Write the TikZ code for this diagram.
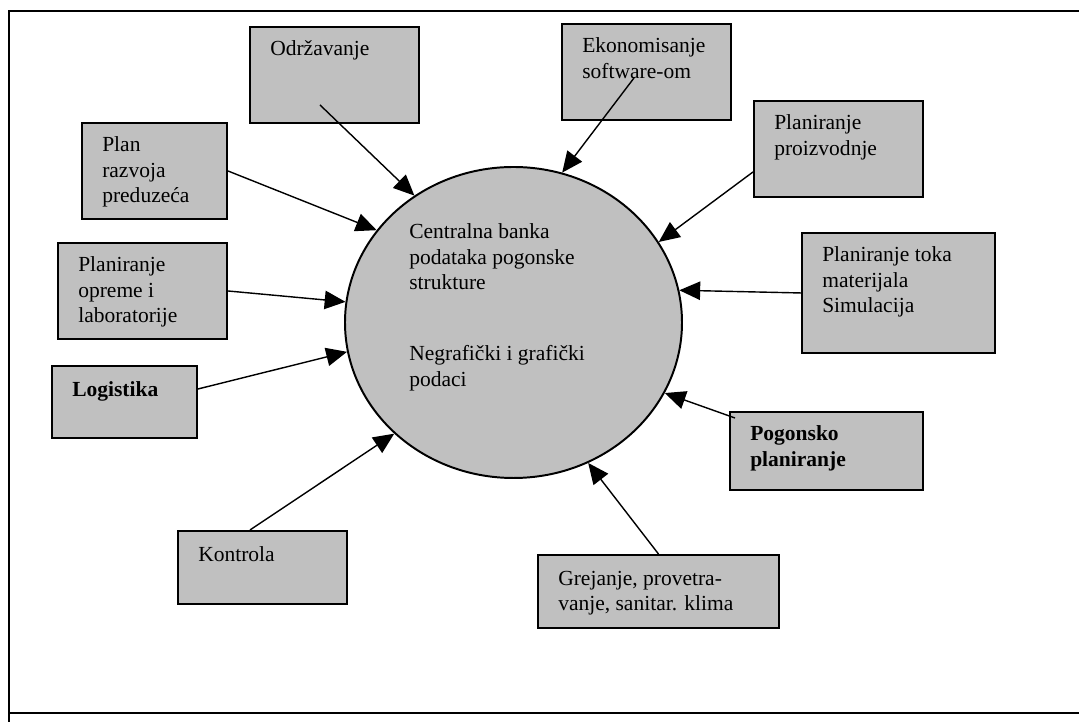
\documentclass[tikz,border=0pt]{standalone}
\usepackage{fontspec}
\setmainfont{Liberation Serif}
\usetikzlibrary{shapes.geometric,arrows.meta}
\definecolor{boxgray}{RGB}{192,192,192}

% lines stacked from the first baseline down
\newcommand{\lines}[1]{\begin{tabular}[t]{@{}l@{}}#1\end{tabular}}

\begin{document}
\begin{tikzpicture}[>={Triangle[length=0.52cm,width=0.46cm]},
    every node/.style={font=\fontsize{15.3pt}{17.8pt}\selectfont},
    box/.style={draw, line width=1.4pt, fill=boxgray, inner sep=0pt, anchor=north west},
    txt/.style={anchor=base west, inner sep=0pt},
    link/.style={->, line width=1pt}]
    \useasboundingbox (0,0) rectangle (26.975,18.05);

    % Frame
    \draw[line width=1.4pt] (26.975,17.775) -- (0.225,17.775) -- (0.225,0);
    \draw[line width=1.4pt] (0.225,0.225) -- (26.975,0.225);

    % Central data bank
    \node[ellipse, draw, line width=1.4pt, fill=boxgray, minimum width=8.425cm, minimum height=7.775cm] (bank) at (12.8375,9.9875) {};
    \node[txt] (bank-t1) at ([shift={(-2.6125,2.0875)}]bank.center) {\lines{Centralna banka\\podataka pogonske\\strukture}};
    \node[txt] (bank-t2) at ([shift={(-2.6125,-0.9625)}]bank.center) {\lines{Negrafi\v{c}ki i grafi\v{c}ki\\podaci}};

    % Boxes round the bank
    \node[box, minimum width=4.225cm, minimum height=2.4cm] (odr) at (6.225,17.4) {};
    \node[txt] (odr-t) at ([shift={(0.525,-0.75)}]odr.north west) {Odr\v{z}avanje};

    \node[box, minimum width=3.625cm, minimum height=2.4cm] (plan) at (2.025,15.0) {};
    \node[txt] (plan-t) at ([shift={(0.525,-0.75)}]plan.north west) {\lines{Plan\\razvoja\\preduze\'ca}};

    \node[box, minimum width=4.225cm, minimum height=2.4cm] (ekon) at (14.025,17.475) {};
    \node[txt] (ekon-t) at ([shift={(0.525,-0.75)}]ekon.north west) {\lines{Ekonomisanje\\software-om}};

    \node[box, minimum width=4.225cm, minimum height=2.4cm] (plpr) at (18.825,15.55) {};
    \node[txt] (plpr-t) at ([shift={(0.525,-0.75)}]plpr.north west) {\lines{Planiranje\\proizvodnje}};

    \node[box, minimum width=4.225cm, minimum height=2.4cm] (oprema) at (1.425,12.0) {};
    \node[txt] (oprema-t) at ([shift={(0.525,-0.75)}]oprema.north west) {\lines{Planiranje\\opreme i\\laboratorije}};

    \node[box, minimum width=3.625cm, minimum height=1.8cm] (logist) at (1.275,8.925) {};
    \node[txt] (logist-t) at ([shift={(0.525,-0.78)}]logist.north west) {\textbf{Logistika}};

    \node[box, minimum width=4.825cm, minimum height=3.0cm] (tok) at (20.025,12.25) {};
    \node[txt] (tok-t) at ([shift={(0.525,-0.75)}]tok.north west) {\lines{Planiranje toka\\materijala\\Simulacija}};

    \node[box, minimum width=4.825cm, minimum height=1.95cm] (pogon) at (18.225,7.775) {};
    \node[txt] (pogon-t) at ([shift={(0.525,-0.75)}]pogon.north west) {\lines{\textbf{Pogonsko}\\\textbf{planiranje}}};

    \node[box, minimum width=4.225cm, minimum height=1.825cm] (kontrola) at (4.425,4.8) {};
    \node[txt] (kontrola-t) at ([shift={(0.525,-0.78)}]kontrola.north west) {Kontrola};

    \node[box, minimum width=6.025cm, minimum height=1.825cm] (grejanje) at (13.425,4.2) {};
    \node[txt] (grejanje-t) at ([shift={(0.525,-0.78)}]grejanje.north west) {\lines{Grejanje, provetra-\\vanje, sanitar. klima}};

    % Links into the bank
    \draw[link] ([shift={(1.775,0.475)}]odr.south west) -- (bank.128);
    \draw[link] (plan.east) -- (bank.146);
    \draw[link] ([shift={(1.825,-1.375)}]ekon.north west) -- (bank.72);
    \draw[link] ([yshift=-0.575cm]plpr.west) -- (bank.29);
    \draw[link] (oprema.east) -- (bank.173);
    \draw[link] ([yshift=0.325cm]logist.east) -- (bank.190);
    \draw[link] (tok.west) -- (bank.11);
    \draw[link] ([shift={(0.15,-0.175)}]pogon.north west) -- (bank.335);
    \draw[link] ([xshift=1.825cm]kontrola.north west) -- (bank.223);
    \draw[link] (grejanje.north) -- (bank.298);
\end{tikzpicture}
\end{document}
